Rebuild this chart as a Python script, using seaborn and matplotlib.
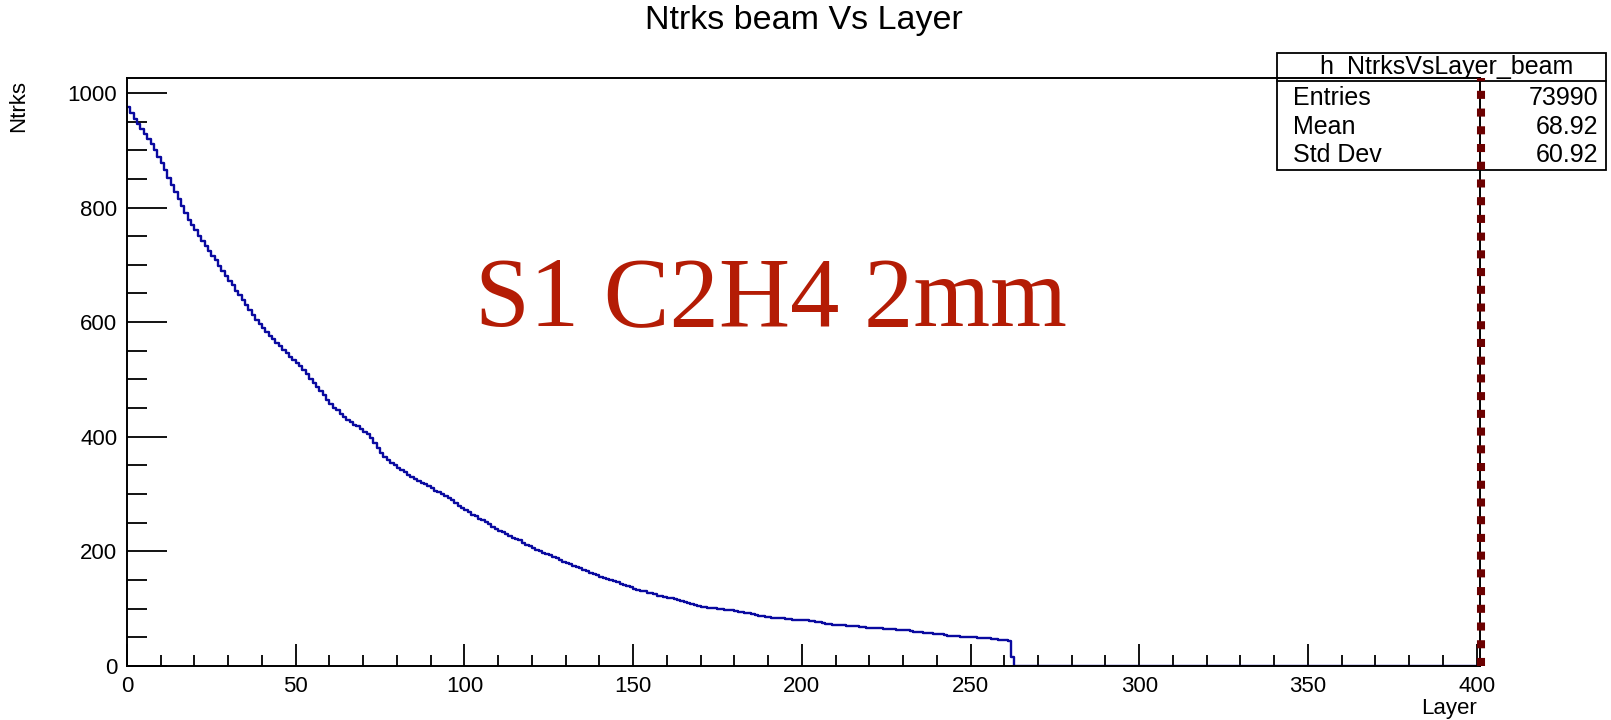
import numpy as np
import pandas as pd
import matplotlib
matplotlib.use("Agg")
import matplotlib.pyplot as plt
from matplotlib.patches import Rectangle
from matplotlib.lines import Line2D
from matplotlib.ticker import MultipleLocator
import seaborn as sns

## Data (one value per layer bin, width 1)
ntrks = [
    976, 965, 955, 946, 937, 928, 919, 910, 900, 889,
    877, 865, 852, 840, 827, 815, 802, 790, 778, 769,
    760, 751, 742, 733, 724, 716, 708, 698, 689, 680,
    672, 664, 655, 647, 638, 630, 621, 612, 603, 596,
    589, 582, 576, 570, 564, 558, 552, 546, 540, 534,
    529, 524, 516, 509, 501, 494, 487, 479, 472, 465,
    458, 451, 446, 440, 435, 430, 426, 421, 418, 414,
    409, 404, 398, 389, 380, 372, 365, 359, 354, 350,
    346, 342, 338, 334, 330, 327, 323, 320, 317, 314,
    310, 306, 303, 300, 296, 293, 289, 284, 279, 275,
    272, 268, 264, 261, 257, 254, 251, 247, 243, 239,
    236, 233, 230, 227, 224, 222, 219, 215, 212, 209,
    206, 203, 201, 198, 196, 193, 190, 188, 185, 182,
    180, 178, 175, 173, 171, 168, 166, 163, 161, 159,
    156, 154, 152, 150, 148, 146, 143, 141, 139, 137,
    135, 133, 131, 130, 128, 127, 125, 123, 122, 121,
    119, 118, 117, 116, 114, 112, 110, 108, 106, 105,
    103, 103, 102, 101, 101, 100, 99, 98, 97, 97,
    96, 95, 94, 93, 92, 91, 89, 88, 87, 86,
    85, 84, 84, 83, 83, 82, 82, 81, 81, 80,
    80, 80, 79, 78, 77, 76, 75, 74, 73, 72,
    72, 71, 71, 70, 70, 69, 69, 68, 68, 67,
    67, 67, 66, 66, 65, 65, 64, 64, 63, 63,
    63, 62, 61, 60, 60, 59, 58, 57, 57, 56,
    55, 55, 54, 53, 53, 52, 52, 51, 51, 50,
    50, 50, 49, 49, 48, 48, 47, 47, 46, 46,
    45, 44, 16,
]
layers = np.arange(len(ntrks))

stats_name = "h_NtrksVsLayer_beam"
stats_labels = ["Entries", "Mean", "Std Dev"]
stats_values = ["73990", "68.92", "60.92"]

beam_line_x = 401.3  # red dashed marker

df = pd.DataFrame({"layer": layers + 0.5, "ntrks": ntrks})

sns.set_style("ticks")
plt.rcParams["font.family"] = ["Liberation Sans", "DejaVu Sans"]
plt.rcParams.update({"text.color": "black", "axes.labelcolor": "black",
                     "xtick.color": "black", "ytick.color": "black",
                     "xtick.labelcolor": "black", "ytick.labelcolor": "black"})

W, H = 1611, 720
fig = plt.figure(figsize=(W / 100, H / 100), dpi=100)
ax = fig.add_axes([127 / W, 1 - 666 / H, (1480 - 127) / W, (666 - 78) / H])

# histogram runs over the whole layer range, empty bins after the last hit
sns.histplot(data=df, x="layer", weights="ntrks", binwidth=1, binrange=(0, 401),
             element="step", fill=False, color="#0a0aa0", linewidth=1.7, ax=ax)

ax.set_xlim(0, 401)
ax.set_ylim(0, 1026)

# ROOT-ish ticks: inward, only bottom/left
ax.xaxis.set_major_locator(MultipleLocator(50))
ax.xaxis.set_minor_locator(MultipleLocator(10))
ax.yaxis.set_major_locator(MultipleLocator(200))
ax.yaxis.set_minor_locator(MultipleLocator(50))
ax.tick_params(axis="both", which="both", direction="in", top=False, right=False,
               labelsize=16, pad=7, color="black", labelcolor="black")
ax.tick_params(axis="y", which="major", length=29, width=1.3)
ax.tick_params(axis="y", which="minor", length=14.5, width=1.3)
ax.tick_params(axis="x", which="major", length=16, width=1.3)
ax.tick_params(axis="x", which="minor", length=8, width=1.3)

for sp in ax.spines.values():
    sp.set_linewidth(1.4)
    sp.set_color("black")

# axis titles
ax.set_xlabel("Layer", fontsize=16, ha="right", color="black")
ax.xaxis.set_label_coords(0.998, -0.054)
ylab = ax.set_ylabel("Ntrks", fontsize=16, color="black")
ylab.set_rotation_mode("default")
ylab.set_va("top")
ylab.set_ha("center")
ax.yaxis.set_label_coords(-0.0803, 0.997)

ax.set_title("Ntrks beam Vs Layer", fontsize=24.5, y=1.083, va="center", color="black")

# stats box
x0, x1 = 1277 / W, 1606 / W
ytop, yhead, ybot = 1 - 53 / H, 1 - 81 / H, 1 - 170 / H
fig.add_artist(Rectangle((x0, ybot), x1 - x0, ytop - ybot, transform=fig.transFigure,
                         facecolor="white", edgecolor="black", linewidth=1.3, zorder=5))
fig.add_artist(Line2D([x0, x1], [yhead, yhead], transform=fig.transFigure,
                      color="black", linewidth=1.3, zorder=6))
fig.text(1446 / W, 1 - 67 / H, stats_name, ha="center", va="center", fontsize=18,
         color="black", zorder=7)
for i, (lab, val) in enumerate(zip(stats_labels, stats_values)):
    yy = 1 - (98 + 28.5 * i) / H
    fig.text(1293 / W, yy, lab, ha="left", va="center", fontsize=18, color="black", zorder=7)
    fig.text(1598 / W, yy, val, ha="right", va="center", fontsize=18, color="black", zorder=7)

# beam marker line drawn over the box
ax.axvline(beam_line_x, ymin=0, ymax=1, color="#6b0000", linewidth=5.8,
           linestyle=(0, (1, 1.2)), clip_on=False, zorder=10)
ax.set_zorder(6)
ax.patch.set_alpha(0)

fig.text(475 / W, 1 - 325 / H, "S1 C2H4 2mm", fontsize=71, color="#b41c05",
         family=["Liberation Serif", "DejaVu Serif"], ha="left", va="baseline")

fig.savefig("out.png", dpi=100, facecolor="white")
